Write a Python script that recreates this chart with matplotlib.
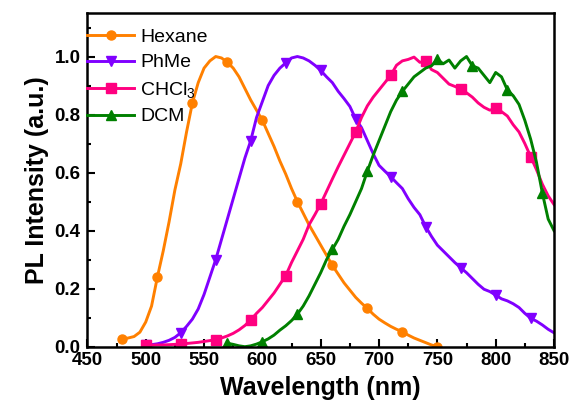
import matplotlib
matplotlib.use('Agg')
import matplotlib.pyplot as plt
import numpy as np

plt.rcParams['font.family'] = 'Liberation Sans'
plt.rcParams['mathtext.fontset'] = 'custom'
plt.rcParams['mathtext.rm'] = 'Liberation Sans'
plt.rcParams['mathtext.it'] = 'Liberation Sans:italic'

# spectra, 5 nm steps
hexane_start = 480
hexane = [0.026, 0.03, 0.035, 0.05, 0.085, 0.14, 0.24, 0.33, 0.43, 0.54,
          0.63, 0.74, 0.84, 0.91, 0.96, 0.985, 1.0, 0.995, 0.98, 0.96,
          0.93, 0.89, 0.85, 0.815, 0.78, 0.735, 0.69, 0.64, 0.595, 0.545,
          0.5, 0.46, 0.42, 0.385, 0.35, 0.315, 0.28, 0.25, 0.22, 0.195,
          0.17, 0.15, 0.132, 0.112, 0.095, 0.082, 0.07, 0.06, 0.052, 0.04,
          0.03, 0.022, 0.014, 0.006, 0.0]

phme_start = 500
phme = [0.005, 0.007, 0.01, 0.015, 0.022, 0.032, 0.048, 0.07, 0.095, 0.13,
        0.18, 0.24, 0.30, 0.37, 0.44, 0.51, 0.58, 0.65, 0.71, 0.79,
        0.845, 0.90, 0.935, 0.96, 0.978, 0.995, 1.0, 0.995, 0.985, 0.97,
        0.952, 0.93, 0.91, 0.88, 0.855, 0.828, 0.785, 0.755, 0.71, 0.665,
        0.625, 0.605, 0.586, 0.565, 0.545, 0.51, 0.48, 0.455, 0.414, 0.38,
        0.35, 0.33, 0.31, 0.29, 0.272, 0.255, 0.235, 0.215, 0.198, 0.19,
        0.178, 0.165, 0.158, 0.148, 0.135, 0.115, 0.098, 0.088, 0.075, 0.06,
        0.048]

chcl3_start = 500
chcl3 = [0.005, 0.005, 0.006, 0.006, 0.007, 0.008, 0.009, 0.011, 0.013, 0.015,
         0.018, 0.021, 0.024, 0.03, 0.037, 0.046, 0.058, 0.073, 0.092, 0.115,
         0.135, 0.16, 0.185, 0.215, 0.245, 0.29, 0.33, 0.37, 0.42, 0.455,
         0.492, 0.535, 0.578, 0.62, 0.66, 0.70, 0.74, 0.79, 0.83, 0.86,
         0.885, 0.91, 0.935, 0.97, 0.985, 0.99, 0.998, 0.98, 0.985, 0.955,
         0.945, 0.925, 0.905, 0.897, 0.888, 0.875, 0.86, 0.84, 0.825, 0.815,
         0.822, 0.81, 0.795, 0.765, 0.74, 0.70, 0.655, 0.61, 0.56, 0.52,
         0.49]

dcm_start = 570
dcm = [0.012, 0.008, 0.003, 0.0, 0.003, 0.009, 0.017, 0.027, 0.04, 0.057,
       0.072, 0.09, 0.112, 0.14, 0.175, 0.215, 0.255, 0.30, 0.335, 0.37,
       0.415, 0.455, 0.50, 0.545, 0.605, 0.66, 0.71, 0.76, 0.81, 0.85,
       0.88, 0.905, 0.93, 0.945, 0.96, 0.968, 0.99, 0.975, 0.988, 0.96,
       0.985, 1.0, 0.968, 0.96, 0.935, 0.91, 0.945, 0.93, 0.885, 0.865,
       0.835, 0.78, 0.715, 0.635, 0.53, 0.44, 0.40]

series = [
    ('Hexane', hexane_start, hexane, '#FF8000', 'o'),
    ('PhMe', phme_start, phme, '#8000FF', 'v'),
    (r'CHCl$_3$', chcl3_start, chcl3, '#FF0080', 's'),
    ('DCM', dcm_start, dcm, '#008000', '^'),
]

fig = plt.figure(figsize=(5.75, 4.03), dpi=100)
ax = fig.add_axes([87.4 / 575, 1 - 346.7 / 403, (554 - 87.4) / 575, (346.7 - 13) / 403])

for name, start, vals, col, mk in series:
    wl = start + 5 * np.arange(len(vals))
    ax.plot(wl, vals, color=col, lw=2.1, marker=mk, markersize=6.5,
            markevery=6, label=name)

ax.set_xlim(450, 850)
ax.set_ylim(0, 1.15)
ax.set_xticks(np.arange(450, 851, 50))
ax.set_xticks(np.arange(450, 851, 25), minor=True)
ax.set_yticks(np.arange(0, 1.01, 0.2))
ax.set_yticks(np.arange(0, 1.11, 0.1), minor=True)
ax.set_yticklabels(['%.1f' % v for v in np.arange(0, 1.01, 0.2)])

ax.tick_params(which='both', direction='in', width=1.5, labelsize=13.5)
ax.tick_params(which='major', length=6)
ax.tick_params(which='minor', length=3)
ax.tick_params(axis='x', pad=4)
ax.tick_params(axis='y', pad=5)
for lab in ax.get_xticklabels() + ax.get_yticklabels():
    lab.set_fontweight('bold')
for sp in ax.spines.values():
    sp.set_linewidth(1.8)

ax.set_xlabel('Wavelength (nm)', fontsize=18, fontweight='bold', labelpad=5)
ax.set_ylabel('PL Intensity (a.u.)', fontsize=18, fontweight='bold', labelpad=4)

ax.legend(loc='upper left', bbox_to_anchor=(0, 0.955), frameon=False,
          fontsize=14, borderpad=0, borderaxespad=0, handlelength=2.4,
          handletextpad=0.3, labelspacing=0.42)

fig.savefig('out.png', dpi=100)
